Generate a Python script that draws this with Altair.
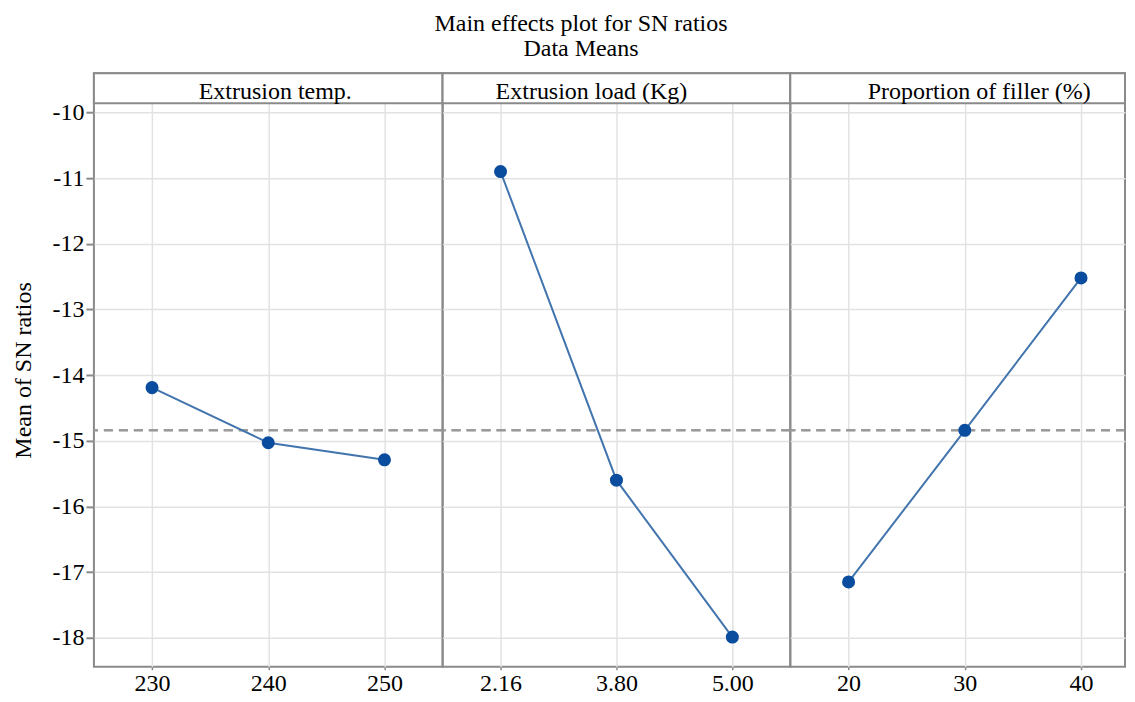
import altair as alt
import pandas as pd

# ---- data ----
factor_names = ["Extrusion temp.", "Extrusion load (Kg)", "Proportion of filler (%)"]
temp_levels = ["230", "240", "250"]
temp_sn = [-14.19, -15.03, -15.29]
load_levels = ["2.16", "3.80", "5.00"]
load_sn = [-10.90, -15.60, -17.99]
filler_levels = ["20", "30", "40"]
filler_sn = [-17.15, -14.84, -12.52]
grand_mean = -14.84
y_ticks = [-10, -11, -12, -13, -14, -15, -16, -17, -18]

# ---- styling ----
FONT = "Liberation Serif"
FS = 24
FRAME = "#8a8a8a"
GRID = "#e2e2e2"
LINE = "#4274ad"
POINT = "#0a4c9e"
Y_DOMAIN = [-18.441, -9.402]
H = 594
HEADER = 30


def panel(levels, values, name, width, header_x, first, pad=0.5, align=0.5):
    df = pd.DataFrame({"level": levels, "sn": values})
    x = alt.X(
        "level:O",
        sort=levels,
        scale=alt.Scale(type="point", padding=pad, align=align),
        axis=alt.Axis(title=None, labelAngle=0, grid=True, domain=False,
                      tickSize=3, tickWidth=1.5, labelPadding=2),
    )
    if first:
        yaxis = alt.Axis(title="Mean of SN ratios", values=y_ticks, grid=True,
                         domain=False, tickSize=8, tickWidth=2, labelPadding=2,
                         titlePadding=16, labelExpr="'-' + abs(datum.value)")
    else:
        yaxis = alt.Axis(title=None, values=y_ticks, grid=True, domain=False,
                         labels=False, ticks=False)
    y = alt.Y("sn:Q", scale=alt.Scale(domain=Y_DOMAIN, nice=False, zero=False),
              axis=yaxis)
    base = alt.Chart(df)
    mean_rule = base.mark_rule(color="#9a9a9a", strokeWidth=2,
                               strokeDash=[9, 6]).encode(y=alt.datum(grand_mean))
    line = base.mark_line(color=LINE, strokeWidth=2).encode(x=x, y=y)
    pts = base.mark_point(filled=True, shape="circle", size=170, color=POINT,
                          opacity=1).encode(x=x, y=y)
    hdf = pd.DataFrame({"name": [name]})
    head_box = alt.Chart(hdf).mark_rect(fill="white", stroke=FRAME, strokeWidth=2).encode(
        x=alt.value(0), x2=alt.value(width), y=alt.value(0), y2=alt.value(HEADER))
    head_txt = alt.Chart(hdf).mark_text(font=FONT, fontSize=FS, color="black",
                                        align="center", baseline="alphabetic").encode(
        x=alt.value(header_x), y=alt.value(26), text="name:N")
    return alt.layer(mean_rule, line, pts, head_box, head_txt).properties(
        width=width, height=H)


p1 = panel(temp_levels, temp_sn, factor_names[0], 349, 181.5, True)
p2 = panel(load_levels, load_sn, factor_names[1], 348, 149, False)
p3 = panel(filler_levels, filler_sn, factor_names[2], 335, 189, False, pad=0.44, align=0.57)

chart = alt.hconcat(p1, p2, p3, spacing=0, bounds="flush").properties(
    title=alt.TitleParams(
        text=["Main effects plot for SN ratios", "Data Means"],
        font=FONT, fontSize=FS, fontWeight="normal", color="black",
        anchor="middle", lineHeight=25, offset=10, dx=12,
    ),
    padding={"left": 3, "top": 4, "right": 0, "bottom": 0},
).configure_view(
    stroke=FRAME, strokeWidth=2
).configure_axis(
    labelFont=FONT, labelFontSize=FS, labelColor="black",
    titleFont=FONT, titleFontSize=FS, titleFontWeight="normal", titleColor="black",
    tickColor=FRAME, gridColor=GRID, gridWidth=1.5,
).configure_concat(spacing=0)

chart.save("out.html", embed_options={"renderer": "svg", "actions": False})
